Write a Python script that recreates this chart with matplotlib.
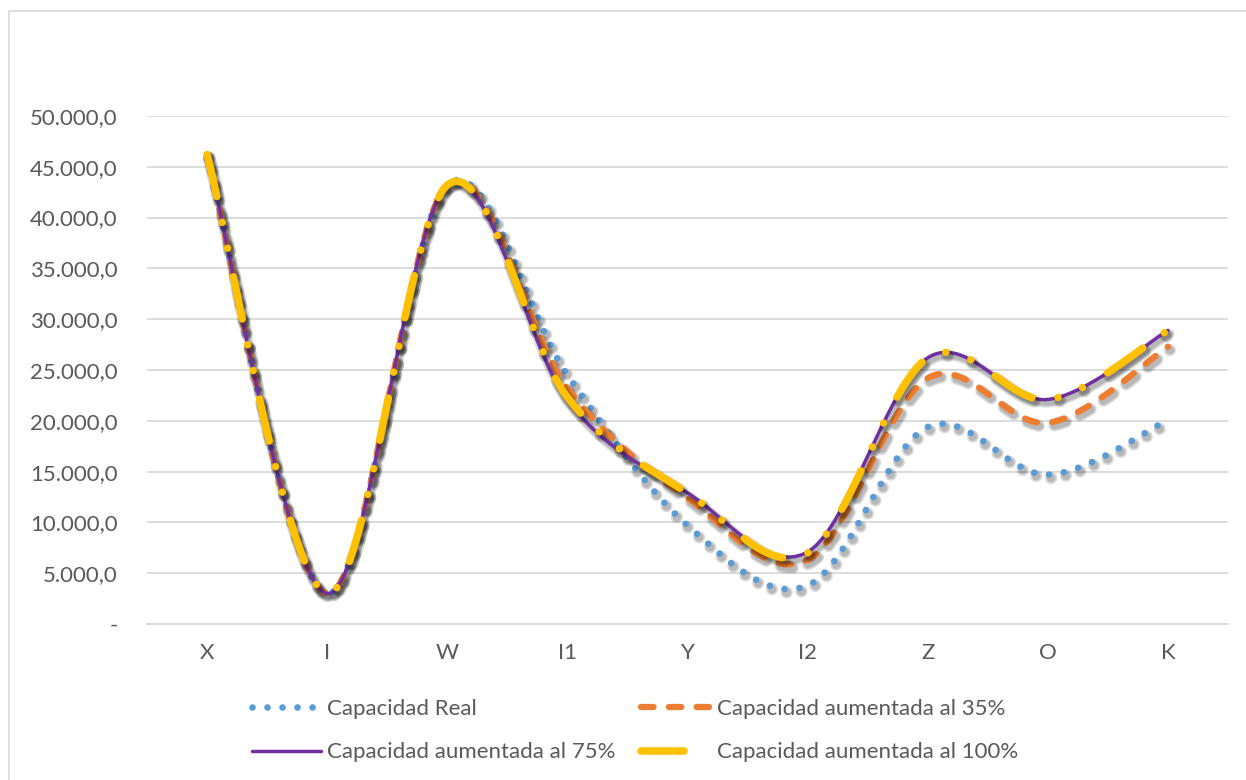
import numpy as np
import matplotlib
matplotlib.use("Agg")
import matplotlib.pyplot as plt
import matplotlib.patheffects as pe
from matplotlib.lines import Line2D
from matplotlib.patches import Rectangle
from matplotlib.ticker import FuncFormatter, MultipleLocator

plt.rcParams['font.family'] = ['Lato', 'DejaVu Sans']
plt.rcParams['lines.scale_dashes'] = False

# datos
categorias = ['X', 'I', 'W', 'I1', 'Y', 'I2', 'Z', 'O', 'K']
cap_real = [46200, 3000, 43200, 24500, 9700, 3800, 19400, 14700, 20100]
cap_35 = [46200, 3000, 43200, 23200, 12400, 6300, 24200, 19800, 27300]
cap_75 = [46200, 3000, 43200, 22000, 12900, 7100, 26200, 22100, 28900]
cap_100 = [46200, 3000, 43200, 22300, 12900, 7000, 26200, 22100, 28900]

etiquetas = ['Capacidad Real', 'Capacidad aumentada al 35%',
             'Capacidad aumentada al 75%', 'Capacidad aumentada al 100%']

TXT = '#595959'
GRID = '#d9d9d9'


# suavizado tipo Excel (bezier / catmull-rom)
def suavizar(y, n=60):
    y = np.asarray(y, dtype=float)
    x = np.arange(len(y), dtype=float)
    xs, ys = [], []
    for i in range(len(y) - 1):
        i0 = max(i - 1, 0)
        i3 = min(i + 2, len(y) - 1)
        p0 = np.array([x[i], y[i]])
        p3 = np.array([x[i + 1], y[i + 1]])
        c1 = p0 + (np.array([x[i + 1], y[i + 1]]) - np.array([x[i0], y[i0]])) / 6.0
        c2 = p3 - (np.array([x[i3], y[i3]]) - np.array([x[i], y[i]])) / 6.0
        t = np.linspace(0, 1, n, endpoint=(i == len(y) - 2))[:, None]
        pts = ((1 - t) ** 3) * p0 + 3 * ((1 - t) ** 2) * t * c1 + 3 * (1 - t) * t ** 2 * c2 + t ** 3 * p3
        xs.append(pts[:, 0])
        ys.append(pts[:, 1])
    return np.concatenate(xs), np.concatenate(ys)


fig = plt.figure(figsize=(12.46, 7.80), dpi=100)
ax = fig.add_axes([0.118, 0.2, 0.8676, 0.6513])

# borde del area del grafico
fig.patches.append(Rectangle((9 / 1246, -0.1), 1.2, 1 - 11 / 780 + 0.1, transform=fig.transFigure,
                             fill=False, edgecolor=GRID, linewidth=1.2))

estilos = [
    dict(color='#5B9BD5', lw=4.8, dashes=(0.01, 10.8), dash_capstyle='round'),
    dict(color='#ED7D31', lw=4.5, dashes=(9, 11), dash_capstyle='round'),
    dict(color='#7030A0', lw=2.5, linestyle='-', solid_capstyle='round'),
    dict(color='#FFC000', lw=5.4, dashes=(31, 19, 0.01, 19, 0.01, 21), dash_capstyle='round'),
]
series = [cap_real, cap_35, cap_75, cap_100]

for vals, st in zip(series, estilos):
    xs, ys = suavizar(vals)
    ax.plot(xs, ys, zorder=3, solid_joinstyle='round',
            path_effects=[pe.SimpleLineShadow(offset=(1.5, -2.5), shadow_color='black', alpha=0.15,
                                              linewidth=st['lw'] + 4),
                          pe.SimpleLineShadow(offset=(1.5, -2.5), shadow_color='black', alpha=0.15,
                                              linewidth=st['lw'] + 1.5),
                          pe.Normal()],
            **st)

ax.set_xlim(-0.5, len(categorias) - 0.5)
ax.set_ylim(0, 50000)
ax.set_xticks(range(len(categorias)))
ax.set_xticklabels(categorias)
ax.yaxis.set_major_locator(MultipleLocator(5000))


def fmt(v, pos):
    if v == 0:
        return '-'
    return '{:,.1f}'.format(v).replace(',', 'X').replace('.', ',').replace('X', '.')


ax.yaxis.set_major_formatter(FuncFormatter(fmt))
ax.grid(axis='y', color=GRID, linewidth=1.3)
ax.set_axisbelow(True)
for s in ['top', 'right', 'left']:
    ax.spines[s].set_visible(False)
ax.spines['bottom'].set_color(GRID)
ax.spines['bottom'].set_linewidth(1.3)
ax.tick_params(axis='both', length=0, labelsize=16, labelcolor=TXT)
ax.tick_params(axis='y', pad=21)
ax.tick_params(axis='x', pad=14)

# leyenda (sin sombra)
handles = [Line2D([], [], **st) for st in estilos]
orden = [0, 2, 1, 3]
fig.legend([handles[i] for i in orden], [etiquetas[i] for i in orden],
           ncol=2, loc='upper left', bbox_to_anchor=(0.2025, 1 - 699 / 780),
           frameon=False, fontsize=16, labelcolor=TXT, handlelength=3.1,
           handletextpad=0.28, columnspacing=1.15, labelspacing=1.05,
           borderpad=0, borderaxespad=0)

fig.savefig('out.png', dpi=100)
